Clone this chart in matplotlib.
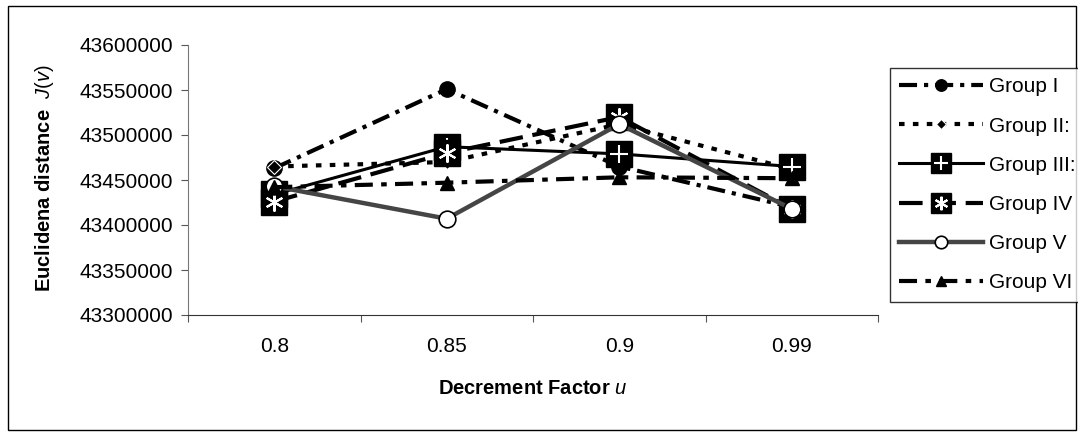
import matplotlib
matplotlib.use("Agg")
import matplotlib.pyplot as plt
from matplotlib.patches import Rectangle

plt.rcParams['font.family'] = ['Liberation Sans', 'DejaVu Sans']
plt.rcParams['mathtext.fontset'] = 'custom'
plt.rcParams['mathtext.rm'] = 'Liberation Sans'
plt.rcParams['mathtext.bf'] = 'Liberation Sans:bold'
plt.rcParams['mathtext.it'] = 'Liberation Sans:italic'
plt.rcParams['lines.scale_dashes'] = False

# data
factors = ['0.8', '0.85', '0.9', '0.99']
group_1 = [43463000, 43551000, 43465000, 43420000]
group_2 = [43465000, 43470000, 43512000, 43462000]
group_3 = [43434000, 43487000, 43479000, 43465000]
group_4 = [43426000, 43480000, 43520000, 43418000]
group_5 = [43443000, 43407000, 43512000, 43418000]
group_6 = [43442000, 43447000, 43453000, 43452000]
names = ['Group I', 'Group II:', 'Group III:', 'Group IV', 'Group V', 'Group VI']

W, H = 1078, 434
fig = plt.figure(figsize=(W / 100, H / 100), dpi=100)
ax = fig.add_axes([188 / W, 1 - 315 / H, (878 - 188) / W, (315 - 45) / H])

x = list(range(len(factors)))

h1, = ax.plot(x, group_1, color='black', lw=3, dashes=(13, 5, 3, 5),
              marker='o', ms=11, mfc='black', mec='black')
h2, = ax.plot(x, group_2, color='black', lw=3, dashes=(4, 6),
              marker='D', ms=7, mfc='black', mec='white', mew=0.8)
h3a, = ax.plot(x, group_3, color='black', lw=2.2,
               marker='s', ms=19, mfc='black', mec='black')
h3b, = ax.plot(x, group_3, ls='none', marker='+', ms=13, mec='white', mew=1.5)
h4a, = ax.plot(x, group_4, color='black', lw=3, dashes=(17, 7),
               marker='s', ms=19, mfc='black', mec='black')
h4b, = ax.plot(x, group_4, ls='none', marker=(6, 2, 0), ms=13, mec='white', mew=1.5)
h5, = ax.plot(x, group_5, color='#454545', lw=3.2,
              marker='o', ms=12, mfc='white', mec='black', mew=1.2)
h6, = ax.plot(x, group_6, color='black', lw=3, dashes=(13, 6, 4, 6),
              marker='^', ms=10, mfc='black', mec='black')

ax.set_xlim(-0.5, 3.5)
ax.set_ylim(43300000, 43600000)
ax.set_yticks(range(43300000, 43600001, 50000))
ax.set_yticklabels([str(v) for v in range(43300000, 43600001, 50000)])
ax.set_xticks([-0.5, 0.5, 1.5, 2.5, 3.5])
ax.set_xticklabels([])
ax.set_xticks(x, minor=True)
ax.set_xticklabels(factors, minor=True)
ax.tick_params(axis='x', which='minor', length=0, pad=16, labelsize=15)
ax.tick_params(axis='x', which='major', length=5, color='#555555')
ax.tick_params(axis='y', length=5, color='#555555', labelsize=15, pad=6)

for s in ['top', 'right']:
    ax.spines[s].set_visible(False)
ax.spines['left'].set_color('#777777')
ax.spines['bottom'].set_color('#333333')

fig.text(45 / W, 1 - 178 / H, r'$\mathbf{Euclidena\ distance}\ \ \mathit{J(v)}$',
         rotation=90, ha='center', va='center', fontsize=14.5)
fig.text(533 / W, 1 - 388 / H, r'$\mathbf{Decrement\ Factor}\ \mathit{u}$',
         ha='center', va='center', fontsize=14.5)

leg = fig.legend([h1, h2, (h3a, h3b), (h4a, h4b), h5, h6], names,
                 loc='upper left', bbox_to_anchor=(890 / W, 1 - 68 / H),
                 fontsize=15, frameon=True, fancybox=False, handlelength=4.0,
                 handletextpad=0.3, labelspacing=0.97, borderpad=0.45,
                 borderaxespad=0, markerscale=0.75)
leg.get_frame().set_edgecolor('black')
leg.get_frame().set_linewidth(1)

fig.patches.append(Rectangle((8 / W, 4 / H), (1076 - 8) / W, (428 - 4) / H,
                             transform=fig.transFigure, fill=False,
                             edgecolor='black', lw=1))

fig.savefig('out.png', dpi=100)
